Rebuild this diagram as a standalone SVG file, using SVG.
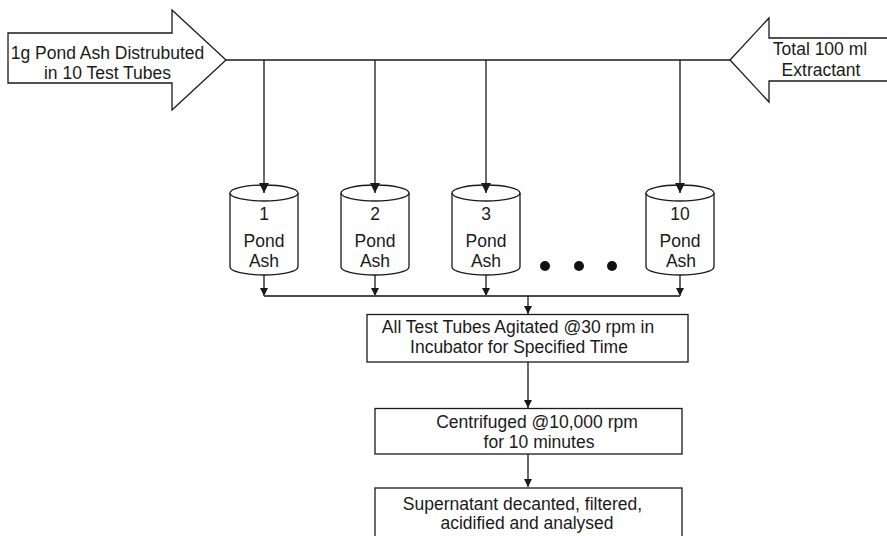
<svg xmlns="http://www.w3.org/2000/svg" width="887" height="536" viewBox="0 0 887 536">
  <style>
    text { font-family: "Liberation Sans", Arial, sans-serif; font-size: 17.5px; fill: #1a1a1a; }
    .c { text-anchor: middle; }
    .shape { fill: #fff; stroke: #1a1a1a; stroke-width: 1.3; }
    .line { fill: none; stroke: #1a1a1a; stroke-width: 1.3; }
    .bus { fill: none; stroke: #4a4a4a; stroke-width: 2; }
  </style>
  <defs>
    <marker id="arrow" markerUnits="userSpaceOnUse" markerWidth="12" markerHeight="12" refX="10" refY="6" orient="auto">
      <path d="M0,1 L10,6 L0,11 Z" fill="#1a1a1a"/>
    </marker>
    <marker id="arrowSmall" markerUnits="userSpaceOnUse" markerWidth="10" markerHeight="10" refX="8" refY="5" orient="auto">
      <path d="M0,1 L8,5 L0,9 Z" fill="#1a1a1a"/>
    </marker>
    <g id="tube">
      <path class="shape" d="M-34,0 L-34,74 A34,8 0 0 0 34,74 L34,0"/>
      <ellipse class="shape" cx="0" cy="0" rx="34" ry="8"/>
    </g>
  </defs>

  <!-- input arrows -->
  <g id="input-ash">
    <polygon class="shape" points="8,33 172,33 172,10 226,60 172,110 172,83 8,83"/>
    <text class="c" x="107.5" y="59">1g Pond Ash Distrubuted</text>
    <text class="c" x="107.5" y="79">in 10 Test Tubes</text>
  </g>
  <g id="input-extractant">
    <polygon class="shape" points="890,38 769,38 769,18 730,60 769,102 769,81 890,81"/>
    <text class="c" x="820" y="55">Total 100 ml</text>
    <text class="c" x="821" y="76">Extractant</text>
  </g>

  <!-- test tubes -->
  <g id="tube-1">
    <use href="#tube" x="264" y="193"/>
    <text class="c" x="264" y="220">1</text>
    <text class="c" x="264" y="246.5">Pond</text>
    <text class="c" x="264" y="266.5">Ash</text>
  </g>
  <g id="tube-2">
    <use href="#tube" x="375" y="193"/>
    <text class="c" x="375" y="220">2</text>
    <text class="c" x="375" y="246.5">Pond</text>
    <text class="c" x="375" y="266.5">Ash</text>
  </g>
  <g id="tube-3">
    <use href="#tube" x="486" y="193"/>
    <text class="c" x="486" y="220">3</text>
    <text class="c" x="486" y="246.5">Pond</text>
    <text class="c" x="486" y="266.5">Ash</text>
  </g>
  <g id="ellipsis">
    <circle cx="545" cy="266" r="5" fill="#111"/>
    <circle cx="579" cy="266" r="5" fill="#111"/>
    <circle cx="612" cy="266" r="5" fill="#111"/>
  </g>
  <g id="tube-10">
    <use href="#tube" x="680" y="193"/>
    <text class="c" x="680" y="220">10</text>
    <text class="c" x="680" y="246.5">Pond</text>
    <text class="c" x="681" y="266.5">Ash</text>
  </g>

  <!-- process steps -->
  <g id="step-agitate">
    <rect class="shape" x="367" y="314.5" width="321" height="47.5"/>
    <text class="c" x="518" y="333">All Test Tubes Agitated @30 rpm in</text>
    <text class="c" x="519" y="353">Incubator for Specified Time</text>
  </g>
  <g id="step-centrifuge">
    <rect class="shape" x="375" y="408.5" width="307" height="45.5"/>
    <text class="c" x="537" y="428">Centrifuged @10,000 rpm</text>
    <text class="c" x="539" y="448">for 10 minutes</text>
  </g>
  <g id="step-analyse">
    <rect class="shape" x="375" y="488" width="307" height="60"/>
    <text class="c" x="522.5" y="510">Supernatant decanted, filtered,</text>
    <text class="c" x="527" y="529">acidified and analysed</text>
  </g>

  <!-- connectors, drawn last so arrowheads sit on top of the tube lids -->
  <g id="connectors">
    <path class="line" d="M226,60 H730"/>
    <path class="line" d="M264,60 V193" marker-end="url(#arrow)"/>
    <path class="line" d="M375,60 V193" marker-end="url(#arrow)"/>
    <path class="line" d="M486,60 V193" marker-end="url(#arrow)"/>
    <path class="line" d="M680,60 V193" marker-end="url(#arrow)"/>
    <path class="line" d="M264,275 V296" marker-end="url(#arrowSmall)"/>
    <path class="line" d="M375,275 V296" marker-end="url(#arrowSmall)"/>
    <path class="line" d="M486,275 V296" marker-end="url(#arrowSmall)"/>
    <path class="line" d="M680,275 V296" marker-end="url(#arrowSmall)"/>
    <path class="bus" d="M264,296 H680"/>
    <path class="line" d="M528,296 V314" marker-end="url(#arrowSmall)"/>
    <path class="line" d="M528,362 V408" marker-end="url(#arrowSmall)"/>
    <path class="line" d="M528,454 V487" marker-end="url(#arrowSmall)"/>
  </g>
</svg>
